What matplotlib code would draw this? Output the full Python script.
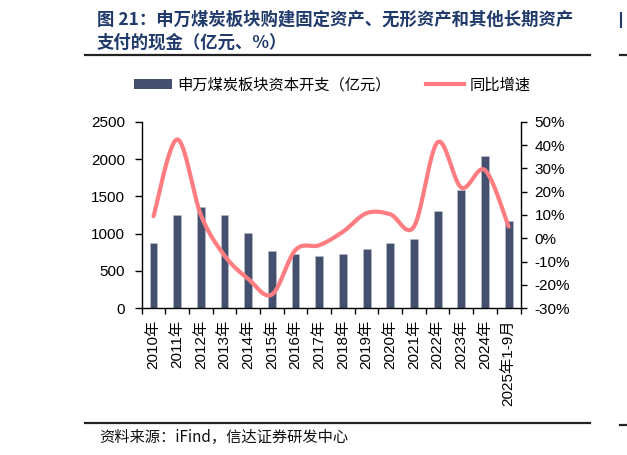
import numpy as np
import matplotlib
matplotlib.use("Agg")
import matplotlib.pyplot as plt
from matplotlib.lines import Line2D
from matplotlib.patches import Patch

# ---- data ----
categories = ["2010年", "2011年", "2012年", "2013年", "2014年", "2015年", "2016年", "2017年",
              "2018年", "2019年", "2020年", "2021年", "2022年", "2023年", "2024年", "2025年1-9月"]
capex = [880, 1250, 1360, 1250, 1010, 770, 730, 695, 720, 795, 875, 925, 1305, 1585, 2040, 1165]
growth = [9.5, 42.5, 10.0, -7.5, -17.5, -24.2, -5.0, -3.0, 2.8, 10.8, 10.3, 5.0, 41.3, 21.8, 29.3, 5.0]
left_ticks = [0, 500, 1000, 1500, 2000, 2500]
right_ticks = [-30, -20, -10, 0, 10, 20, 30, 40, 50]

BAR_C = "#454F6E"
LINE_C = "#FF7C80"
TITLE_C = "#1F3A6B"
LAT = ["Liberation Sans", "Noto Sans CJK SC", "DejaVu Sans"]
CJK = ["Noto Sans CJK SC", "Liberation Sans", "DejaVu Sans"]

W, H = 627, 455
fig = plt.figure(figsize=(W / 100, H / 100), dpi=100)

def fx(px):
    return px / W

def fy(py):
    return 1 - py / H

ax = fig.add_axes([fx(141.7), fy(308), fx(520.5) - fx(141.7), fy(122) - fy(308)])
x = np.arange(len(categories))
ax.bar(x, capex, width=0.33, color=BAR_C, edgecolor="#B9BECD", linewidth=0.4, zorder=2)
ax.set_xlim(-0.5, len(categories) - 0.5)
ax.set_ylim(0, 2500)
ax.set_yticks(left_ticks)
ax.set_yticklabels([str(v) for v in left_ticks], family=LAT, fontsize=11)
ax.tick_params(axis="y", direction="out", length=5, width=1, pad=7)

# category boundaries as major ticks, labels at centers as minor ticks
ax.set_xticks(np.arange(-0.5, len(categories), 1.0))
ax.set_xticklabels([])
ax.set_xticks(x, minor=True)
ax.set_xticklabels(categories, minor=True, rotation=90, family=LAT, fontsize=11, va="top")
ax.tick_params(axis="x", which="major", direction="out", length=4, width=1)
ax.tick_params(axis="x", which="minor", length=0, pad=8.5)
for s in ["top", "right"]:
    ax.spines[s].set_visible(False)
for s in ["left", "bottom"]:
    ax.spines[s].set_linewidth(1)

ax2 = ax.twinx()
ax2.set_ylim(-30, 50)
ax2.set_yticks(right_ticks)
ax2.set_yticklabels([f"{v}%" for v in right_ticks], family=LAT, fontsize=11)
ax2.tick_params(axis="y", direction="out", length=4, width=1, pad=6)
for s in ["top", "left", "bottom"]:
    ax2.spines[s].set_visible(False)
ax2.spines["right"].set_linewidth(1)

# smoothed line (Catmull-Rom through the data points, like Excel's smoothed line)
px = x.astype(float)
py = np.array(growth, dtype=float)
n = len(px)
xs, ys = [], []
for i in range(n - 1):
    i0, i3 = max(i - 1, 0), min(i + 2, n - 1)
    p0 = np.array([px[i], py[i]])
    p3 = np.array([px[i + 1], py[i + 1]])
    b1 = p0 + (np.array([px[i + 1], py[i + 1]]) - np.array([px[i0], py[i0]])) / 6
    b2 = p3 - (np.array([px[i3], py[i3]]) - np.array([px[i], py[i]])) / 6
    t = np.linspace(0, 1, 30)[:, None]
    seg = (1 - t) ** 3 * p0 + 3 * (1 - t) ** 2 * t * b1 + 3 * (1 - t) * t ** 2 * b2 + t ** 3 * p3
    xs.extend(seg[:, 0]); ys.extend(seg[:, 1])
ax2.plot(xs, ys, color=LINE_C, lw=3, solid_capstyle="round", zorder=3)

# legend
handles = [Patch(facecolor=BAR_C, edgecolor="none"), Line2D([0], [0], color=LINE_C, lw=3)]
fig.legend(handles, ["申万煤炭板块资本开支（亿元）", "同比增速"], loc="center left",
           bbox_to_anchor=(fx(134), fy(85)), ncol=2, frameon=False, borderpad=0,
           borderaxespad=0, handlelength=2.5, handleheight=0.55, handletextpad=0.35,
           columnspacing=2.3, prop={"family": CJK, "size": 11})

# title
fig.text(fx(97), fy(20), "图 21：申万煤炭板块购建固定资产、无形资产和其他长期资产",
         family=CJK, fontsize=12.5, fontweight="bold", color=TITLE_C, va="center", ha="left")
fig.text(fx(97), fy(43), "支付的现金（亿元、%）",
         family=CJK, fontsize=12.5, fontweight="bold", color=TITLE_C, va="center", ha="left")
fig.add_artist(Line2D([fx(85), fx(590)], [fy(55), fy(55)], color="#222222", lw=1.6))
fig.add_artist(Line2D([fx(85), fx(590)], [fy(423), fy(423)], color="#222222", lw=1.6))

# source
fig.text(fx(99), fy(437), "资料来源：iFind，信达证券研发中心", family=CJK, fontsize=11,
         style="italic", color="#111111", va="center", ha="left")

# fragments of the neighbouring chart at the right edge
fig.add_artist(Line2D([fx(620), fx(627)], [fy(55), fy(55)], color="#222222", lw=1.6))
fig.add_artist(Line2D([fx(620), fx(627)], [fy(425), fy(425)], color="#222222", lw=1.6))
fig.add_artist(Line2D([fx(621), fx(621)], [fy(13), fy(27)], color=TITLE_C, lw=1.5))

fig.savefig("out.png", dpi=100)
